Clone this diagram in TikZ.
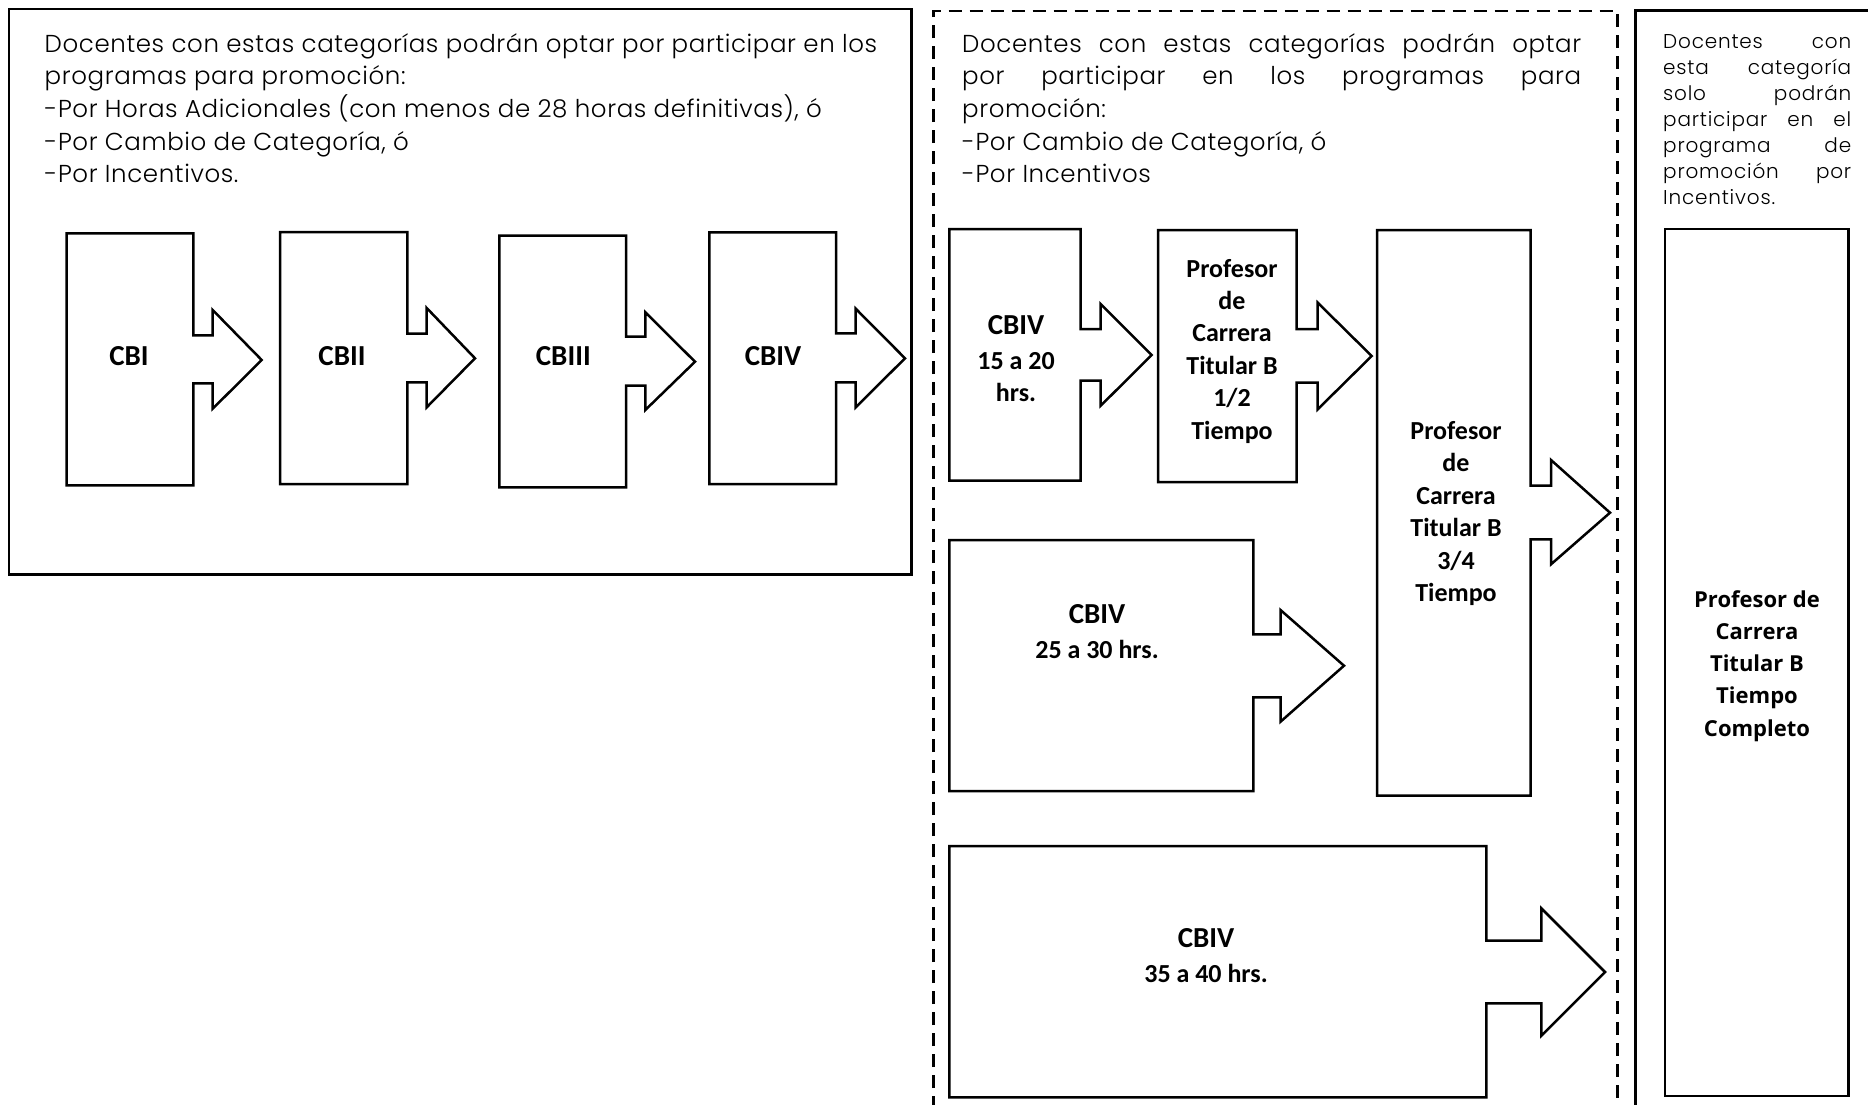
\documentclass[tikz,border=0pt]{standalone}
\usepackage{fontspec}
\setmainfont{Poppins}
\newfontfamily\lightf{Poppins Light}[LetterSpace=2.5]
\newfontfamily\lightw{Poppins Light}[LetterSpace=4]
\newfontfamily\calb{Carlito}
\newfontfamily\osans{Open Sans}
\tikzset{
  shp/.style={draw=black, line width=2.5pt, fill=white, line join=miter},
  frame/.style={draw=black, line width=2.6pt},
  dframe/.style={draw=black, line width=2.4pt, dash pattern=on 13pt off 8pt},
  big/.style={anchor=base west, inner sep=0pt, font=\lightf\fontsize{24.5}{30}\selectfont},
  small/.style={anchor=base west, inner sep=0pt, font=\lightw\fontsize{20}{26}\selectfont},
  lbl/.style={anchor=base, inner sep=0pt, font=\calb\bfseries\fontsize{29}{32}\selectfont},
  sub/.style={anchor=base, inner sep=0pt, font=\calb\bfseries\fontsize{26}{32}\selectfont},
  fin/.style={anchor=base, inner sep=0pt, font=\osans\bfseries\fontsize{22}{32}\selectfont}
}
\begin{document}
\begin{tikzpicture}[x=1pt,y=-1pt]
\useasboundingbox (0,0) rectangle (1868,1104);
\fill[white] (0,0) rectangle (1868,1104);
\clip (0,0) rectangle (1868,1104);

% frames
\draw[frame] (9,9) rectangle (911.7,574.3);
\draw[dframe] (933.5,1130) -- (933.5,11) -- (1617.5,11) -- (1617.5,1130);
\draw[frame] (1635.7,1130) -- (1635.7,10.6) -- (1890,10.6);

% left text
\node[big] (l1) at (44.5,52) {Docentes con estas categorías podrán optar por participar en los};
\node[big] (l2) at (44.5,84.7) {programas para promoción:};
\node[big] (l3) at (44.5,117.4) {-Por Horas Adicionales (con menos de 28 horas definitivas), ó};
\node[big] (l4) at (44.5,150.1) {-Por Cambio de Categoría, ó};
\node[big] (l5) at (44.5,182.8) {-Por Incentivos.};

% middle text
\node[big] (m1) at (962,52) {\makebox[619pt][s]{Docentes con estas categorías podrán optar}};
\node[big] (m2) at (962,84.7) {\makebox[619pt][s]{por participar en los programas para}};
\node[big] (m3) at (962,117.4) {promoción:};
\node[big] (m4) at (962,150.1) {-Por Cambio de Categoría, ó};
\node[big] (m5) at (962,182.8) {-Por Incentivos};

% right text
\node[small] (r1) at (1663,48) {\makebox[188pt][s]{Docentes con}};
\node[small] (r2) at (1663,74) {\makebox[188pt][s]{esta categoría}};
\node[small] (r3) at (1663,100) {\makebox[188pt][s]{solo podrán}};
\node[small] (r4) at (1663,126) {\makebox[188pt][s]{participar en el}};
\node[small] (r5) at (1663,152) {\makebox[188pt][s]{programa de}};
\node[small] (r6) at (1663,178) {\makebox[188pt][s]{promoción por}};
\node[small] (r7) at (1663,204) {Incentivos.};

% left row arrows
\draw[shp] (66.7,233.3) -- (193.3,233.3) -- (193.3,335.3) -- (212.7,335.3) -- (212.7,310) -- (261.7,360) -- (212.7,408.7) -- (212.7,383.3) -- (193.3,383.3) -- (193.3,485.3) -- (66.7,485.3) -- cycle;
\draw[shp] (280,232) -- (407.3,232) -- (407.3,333.7) -- (426.7,333.7) -- (426.7,308) -- (475,358.3) -- (426.7,407.3) -- (426.7,382.3) -- (407.3,382.3) -- (407.3,484) -- (280,484) -- cycle;
\draw[shp] (499.3,235.7) -- (626,235.7) -- (626,336.7) -- (645.3,336.7) -- (645.3,312.3) -- (695,361.7) -- (645.3,410) -- (645.3,385.7) -- (626,385.7) -- (626,487.3) -- (499.3,487.3) -- cycle;
\draw[shp] (709.3,232.3) -- (836,232.3) -- (836,333.3) -- (855.7,333.3) -- (855.7,308.7) -- (905,358.3) -- (855.7,407.3) -- (855.7,382.3) -- (836,382.3) -- (836,484) -- (709.3,484) -- cycle;
\node[lbl] (cb1) at (129,365) {CBI};
\node[lbl] (cb2) at (342,365) {CBII};
\node[lbl] (cb3) at (563.3,365) {CBIII};
\node[lbl] (cb4) at (773,365) {CBIV};

% middle arrows
\draw[shp] (949.3,229) -- (1080.7,229) -- (1080.7,329) -- (1100.7,329) -- (1100.7,304) -- (1151.7,355) -- (1100.7,405.7) -- (1100.7,380.7) -- (1080.7,380.7) -- (1080.7,480.7) -- (949.3,480.7) -- cycle;
\draw[shp] (1158,230) -- (1296.7,230) -- (1296.7,329) -- (1317.7,329) -- (1317.7,302.7) -- (1371.7,356) -- (1317.7,409.3) -- (1317.7,382.7) -- (1296.7,382.7) -- (1296.7,482) -- (1158,482) -- cycle;
\draw[shp] (1377,230) -- (1530.7,230) -- (1530.7,485.7) -- (1551,485.7) -- (1551,460) -- (1610,512.7) -- (1551,564.3) -- (1551,539.3) -- (1530.7,539.3) -- (1530.7,795.5) -- (1377,795.5) -- cycle;
\draw[shp] (949.3,540) -- (1253.3,540) -- (1253.3,634.3) -- (1280.5,634.3) -- (1280.5,610) -- (1344,665.7) -- (1280.5,721.7) -- (1280.5,697.3) -- (1253.3,697.3) -- (1253.3,791) -- (949.3,791) -- cycle;
\draw[shp] (949.3,846) -- (1486.3,846) -- (1486.3,940.7) -- (1541.3,940.7) -- (1541.3,908.3) -- (1605,972) -- (1541.3,1035.7) -- (1541.3,1003.3) -- (1486.3,1003.3) -- (1486.3,1097.3) -- (949.3,1097.3) -- cycle;

\node[lbl] (a1t) at (1016,334.3) {CBIV};
\node[sub] (a1s) at (1016,369.3) {15 a 20};
\node[sub] (a1h) at (1016,401.7) {hrs.};

\node[sub] (p1a) at (1232,277) {Profesor};
\node[sub] (p1b) at (1232,309.4) {de};
\node[sub] (p1c) at (1232,341.8) {Carrera};
\node[sub] (p1d) at (1232,374.2) {Titular B};
\node[sub] (p1e) at (1232,406.6) {1/2};
\node[sub] (p1f) at (1232,439) {Tiempo};

\node[sub] (p2a) at (1456,439.3) {Profesor};
\node[sub] (p2b) at (1456,471.8) {de};
\node[sub] (p2c) at (1456,504.3) {Carrera};
\node[sub] (p2d) at (1456,536.7) {Titular B};
\node[sub] (p2e) at (1456,569.2) {3/4};
\node[sub] (p2f) at (1456,601.7) {Tiempo};

\node[lbl] (a2t) at (1097,623.3) {CBIV};
\node[sub] (a2s) at (1097,658.7) {25 a 30 hrs.};

\node[lbl] (a3t) at (1206,947.3) {CBIV};
\node[sub] (a3s) at (1206,982.7) {35 a 40 hrs.};

% right inner box
\draw[frame] (1665,229) rectangle (1848.3,1096);
\node[fin] (f1) at (1757,607) {Profesor de};
\node[fin] (f2) at (1757,639.3) {Carrera};
\node[fin] (f3) at (1757,671.6) {Titular B};
\node[fin] (f4) at (1757,703.9) {Tiempo};
\node[fin] (f5) at (1757,736.2) {Completo};
\end{tikzpicture}
\end{document}
